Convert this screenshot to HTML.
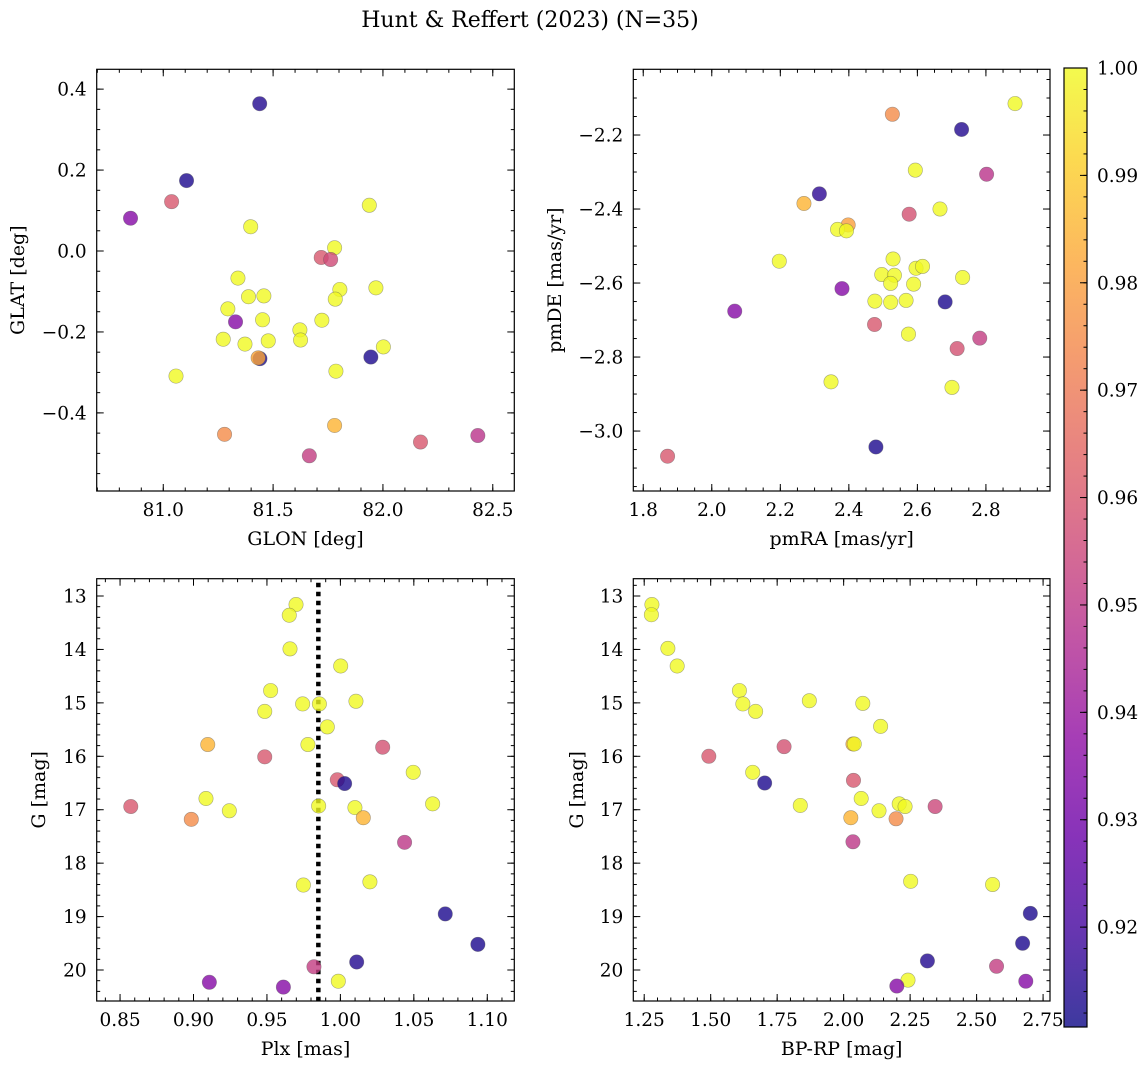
<!DOCTYPE html>
<html><head><meta charset="utf-8">
<style>
html,body{margin:0;padding:0;background:#fff;}
svg{display:block;font-family:"DejaVu Serif","Liberation Serif",serif;}
</style></head>
<body>
<svg id="fig" width="1148" height="1068" viewBox="0 0 1148 1068" xmlns="http://www.w3.org/2000/svg">
<text x="530" y="27" text-anchor="middle" font-size="22">Hunt &amp; Reffert (2023) (N=35)</text>
</svg>
<script>
// ---- data (per panel) ----
const glon = [81.439,81.106,81.038,80.851,81.938,81.398,81.780,81.719,81.762,81.340,81.804,81.968,81.388,81.458,81.783,81.294,81.329,81.452,81.722,81.622,81.273,81.372,81.478,81.625,82.002,81.440,81.432,81.945,81.058,81.786,81.780,81.279,82.171,82.432,81.665];
const glat = [0.364,0.174,0.122,0.081,0.113,0.060,0.008,-0.016,-0.021,-0.067,-0.095,-0.091,-0.113,-0.111,-0.119,-0.143,-0.175,-0.170,-0.171,-0.195,-0.218,-0.230,-0.222,-0.220,-0.237,-0.266,-0.264,-0.262,-0.309,-0.297,-0.431,-0.453,-0.472,-0.456,-0.506];
const prob1 = [0.914,0.913,0.960,0.935,1,1,1,0.960,0.956,1,1,1,1,1,1,1,0.935,1,1,1,1,1,1,1,1,0.913,0.982,0.913,1,1,0.985,0.975,0.960,0.949,0.952];

const pmra = [2.885,2.527,2.729,2.594,2.802,2.314,2.269,2.666,2.576,2.398,2.367,2.393,2.197,2.529,2.596,2.615,2.496,2.533,2.522,2.589,2.732,2.380,2.476,2.522,2.567,2.681,2.067,2.475,2.574,2.782,2.716,2.348,2.701,2.479,1.871];
const pmde = [-2.115,-2.144,-2.185,-2.295,-2.306,-2.359,-2.385,-2.400,-2.414,-2.443,-2.455,-2.459,-2.541,-2.535,-2.560,-2.555,-2.577,-2.579,-2.601,-2.603,-2.585,-2.615,-2.649,-2.652,-2.647,-2.651,-2.676,-2.712,-2.738,-2.749,-2.777,-2.867,-2.882,-3.043,-3.068];
const prob2 = [1,0.975,0.914,1,0.949,0.916,0.985,1,0.958,0.980,1,1,1,1,1,1,1,1,1,1,1,0.935,1,1,1,0.913,0.935,0.960,1,0.952,0.958,1,1,0.913,0.960];

const plx = [0.9698,0.9652,0.9657,1.0002,0.9525,0.9743,0.9857,1.0106,0.9485,0.9911,0.9097,0.9779,1.0288,0.9485,1.0496,0.9979,1.0029,0.9085,1.0628,0.8573,0.9852,1.0099,0.9244,0.8985,1.0156,1.0437,0.9748,1.0201,1.0714,1.0936,1.0111,0.9820,0.9108,0.9986,0.9612];
const gmag3 = [13.16,13.36,13.99,14.31,14.77,15.02,15.02,14.97,15.16,15.45,15.78,15.78,15.83,16.01,16.30,16.44,16.51,16.79,16.89,16.94,16.93,16.96,17.02,17.18,17.15,17.61,18.41,18.35,18.95,19.52,19.85,19.94,20.23,20.21,20.32];
const prob3 = [1,1,1,1,1,1,1,1,1,1,0.985,1,0.958,0.960,1,0.960,0.913,1,1,0.960,1,1,1,0.975,0.985,0.950,1,1,0.913,0.913,0.914,0.952,0.935,1,0.935];
const plxMean = [0.985];

const bprp = [1.279,1.277,1.339,1.374,1.608,1.621,1.669,1.871,2.072,2.139,1.776,2.035,2.040,1.493,1.658,1.703,2.037,2.066,1.837,2.209,2.231,2.133,2.344,2.027,2.197,2.035,2.252,2.560,2.702,2.673,2.315,2.575,2.685,2.242,2.200];
const gmag4 = [13.16,13.35,13.98,14.31,14.77,15.02,15.16,14.96,15.01,15.44,15.82,15.77,15.77,16.00,16.30,16.50,16.45,16.79,16.92,16.89,16.94,17.02,16.94,17.15,17.17,17.60,18.34,18.40,18.94,19.50,19.83,19.93,20.21,20.19,20.30];
const prob4 = [1,1,1,1,1,1,1,1,1,1,0.958,0.985,1,0.960,1,0.913,0.960,1,1,1,1,1,0.955,0.985,0.975,0.950,1,1,0.913,0.913,0.914,0.952,0.935,1,0.935];

const cbTicks = [0.92,0.93,0.94,0.95,0.96,0.97,0.98,0.99,1.00];
const VMIN = 0.9107, VMAX = 1.0;

const NS = "http://www.w3.org/2000/svg";
const svg = document.getElementById('fig');
const TF = 18.5, LF = 19;
function mk(tag, attrs, parent){
  const e = document.createElementNS(NS, tag);
  for (const k in attrs) e.setAttribute(k, attrs[k]);
  (parent||svg).appendChild(e);
  return e;
}
const stops = ["#0d0887","#41049d","#6a00a8","#8f0da4","#b12a90","#cc4778","#e16462","#f2844b","#fca636","#fcce25","#f0f921"];
function hex(h){return [parseInt(h.substr(1,2),16),parseInt(h.substr(3,2),16),parseInt(h.substr(5,2),16)];}
function plasma(t){
  t=Math.max(0,Math.min(1,t));
  const f=t*10, i=Math.min(9,Math.floor(f)), r=f-i;
  const a=hex(stops[i]), b=hex(stops[i+1]);
  return "rgb("+a.map((v,k)=>Math.round(v+(b[k]-v)*r)).join(",")+")";
}
function cmap(p){return plasma((p-VMIN)/(VMAX-VMIN));}
function fmt(v,d){const s=Math.abs(v).toFixed(d);return (v< -1e-9?'\u2212':'')+s;}

function panel(cfg){
  const g = mk('g',{});
  
  
  const {x0,x1,y0,y1,xlim,ylim} = cfg;
  const sx = v => x0 + (v-xlim[0])/(xlim[1]-xlim[0])*(x1-x0);
  const sy = v => y1 - (v-ylim[0])/(ylim[1]-ylim[0])*(y1-y0);
  const tg = mk('g',{stroke:'#000','stroke-width':1},g);
  const eps=1e-9;
  function range(lo,hi,step){const a=[];let s=Math.ceil((Math.min(lo,hi)-eps)/step);for(let v=s*step;v<=Math.max(lo,hi)+eps;v=(++s)*step)a.push(+v.toFixed(6));return a;}
  range(xlim[0],xlim[1],cfg.xminor).forEach(v=>{const x=sx(v);mk('line',{x1:x,x2:x,y1:y1,y2:y1-3.5},tg);mk('line',{x1:x,x2:x,y1:y0,y2:y0+3.5},tg);});
  range(ylim[0],ylim[1],cfg.yminor).forEach(v=>{const y=sy(v);mk('line',{x1:x0,x2:x0+3.5,y1:y,y2:y},tg);mk('line',{x1:x1,x2:x1-3.5,y1:y,y2:y},tg);});
  cfg.xticks.forEach(v=>{const x=sx(v);mk('line',{x1:x,x2:x,y1:y1,y2:y1-7},tg);mk('line',{x1:x,x2:x,y1:y0,y2:y0+7},tg);
    const t=mk('text',{x:x,y:y1+25,'text-anchor':'middle','font-size':TF},g);t.textContent=fmt(v,cfg.xdec);
    
    });
  cfg.yticks.forEach(v=>{const y=sy(v);mk('line',{x1:x0,x2:x0+7,y1:y,y2:y},tg);mk('line',{x1:x1,x2:x1-7,y1:y,y2:y},tg);
    const t=mk('text',{x:x0-10,y:y+6.5,'text-anchor':'end','font-size':TF},g);t.textContent=fmt(v,cfg.ydec);
    
    });
  if(cfg.vline!==undefined){
    const l=mk('line',{x1:sx(cfg.vline),x2:sx(cfg.vline),y1:y0+4,y2:y1,stroke:'#000','stroke-width':4.5,'stroke-dasharray':'4.5 4.5'},g);
    
    
  }
  const pg = mk('g',{},g);
  cfg.xs.forEach((xv,i)=>{
    const c=mk('circle',{cx:sx(xv),cy:sy(cfg.ys[i]),r:7.2,fill:cmap(cfg.ps[i]),'fill-opacity':0.8,stroke:'#555','stroke-opacity':0.5,'stroke-width':0.6},pg);
    
    
  });
  const fr=mk('rect',{x:x0,y:y0,width:x1-x0,height:y1-y0,fill:'none',stroke:'#000','stroke-width':1.2},g);
  
  
  const xl=mk('text',{x:(x0+x1)/2,y:y1+54,'text-anchor':'middle','font-size':LF},g);xl.textContent=cfg.xlabel;
  
  
  const yl=mk('text',{x:0,y:0,'text-anchor':'middle','font-size':LF,transform:`translate(${cfg.ylx},${(y0+y1)/2}) rotate(-90)`},g);yl.textContent=cfg.ylabel;
  
  
}

panel({name:'glon-glat-panel',x0:96.7,x1:514.3,y0:69.3,y1:491,xlim:[80.697,82.598],ylim:[-0.593,0.449],
  xticks:[81.0,81.5,82.0,82.5],yticks:[-0.4,-0.2,0.0,0.2,0.4],xminor:0.1,yminor:0.05,xdec:1,ydec:1,
  xs:glon,ys:glat,ps:prob1,xlabel:'GLON [deg]',ylabel:'GLAT [deg]',ylx:24});
panel({name:'pm-panel',x0:633.3,x1:1050,y0:69.3,y1:491,xlim:[1.771,2.987],ylim:[-3.162,-2.0224],
  xticks:[1.8,2.0,2.2,2.4,2.6,2.8],yticks:[-3.0,-2.8,-2.6,-2.4,-2.2],xminor:0.05,yminor:0.05,xdec:1,ydec:1,
  xs:pmra,ys:pmde,ps:prob2,xlabel:'pmRA [mas/yr]',ylabel:'pmDE [mas/yr]',ylx:561});
panel({name:'plx-g-panel',x0:96.7,x1:514.3,y0:578.7,y1:1001,xlim:[0.8341,1.1184],ylim:[20.58,12.676],
  xticks:[0.85,0.90,0.95,1.00,1.05,1.10],yticks:[13,14,15,16,17,18,19,20],xminor:0.01,yminor:0.2,xdec:2,ydec:0,
  xs:plx,ys:gmag3,ps:prob3,xlabel:'Plx [mas]',ylabel:'G [mag]',ylx:45,vline:plxMean[0]});
panel({name:'cmd-panel',x0:633.3,x1:1050,y0:578.7,y1:1001,xlim:[1.209,2.776],ylim:[20.58,12.676],
  xticks:[1.25,1.50,1.75,2.00,2.25,2.50,2.75],yticks:[13,14,15,16,17,18,19,20],xminor:0.05,yminor:0.2,xdec:2,ydec:0,
  xs:bprp,ys:gmag4,ps:prob4,xlabel:'BP-RP [mag]',ylabel:'G [mag]',ylx:583});

(function(){
  const cx0=1064, cx1=1087, cy0=68, cy1=1027;
  const cg=mk('g',{});
  
  
  const defs=mk('defs',{},cg);
  const lg=mk('linearGradient',{id:'cbg',x1:0,y1:1,x2:0,y2:0},defs);
  for(let i=0;i<=20;i++){mk('stop',{offset:i/20,'stop-color':plasma(i/20),'stop-opacity':0.8},lg);}
  mk('rect',{x:cx0,y:cy0,width:cx1-cx0,height:cy1-cy0,fill:'url(#cbg)'},cg);
  const sy=v=>cy1-(v-VMIN)/(VMAX-VMIN)*(cy1-cy0);
  for(let k=Math.ceil(VMIN/0.002);k*0.002<=VMAX+1e-9;k++){const y=sy(k*0.002);mk('line',{x1:cx1,x2:cx1-3.5,y1:y,y2:y,stroke:'#000','stroke-width':1},cg);}
  cbTicks.forEach(v=>{const y=sy(v);mk('line',{x1:cx1,x2:cx1-7,y1:y,y2:y,stroke:'#000','stroke-width':1},cg);
    const t=mk('text',{x:cx1+10,y:y+6.5,'font-size':TF},cg);t.textContent=v.toFixed(2);
    
    });
  mk('rect',{x:cx0,y:cy0,width:cx1-cx0,height:cy1-cy0,fill:'none',stroke:'#000','stroke-width':1.2},cg);
})();
</script>
</body></html>
